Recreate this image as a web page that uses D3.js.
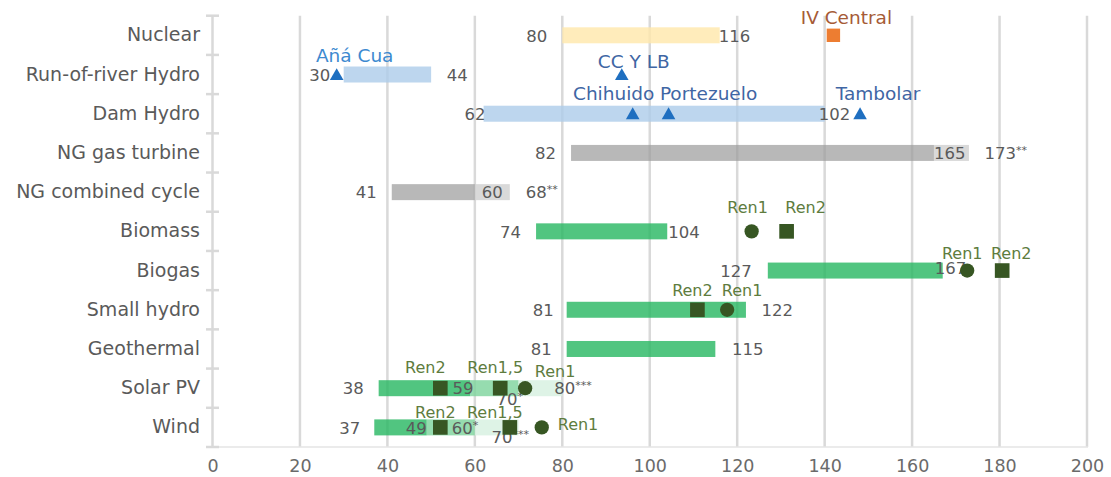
<!DOCTYPE html>
<html>
<head>
<meta charset="utf-8">
<script src="https://cdn.jsdelivr.net/npm/d3@7"></script>
<style>
  html, body { margin: 0; padding: 0; background: #fff; }
  svg { display: block; font-family: "DejaVu Sans", sans-serif; }
</style>
</head>
<body>
<svg id="chart" width="1111" height="477"></svg>
<script>
// ---------------- DATA ----------------
const categories = ["Nuclear","Run-of-river Hydro","Dam Hydro","NG gas turbine","NG combined cycle","Biomass","Biogas","Small hydro","Geothermal","Solar PV","Wind"];
const barLow  = [80, 30, 62, 82, 41, 74, 127, 81, 81, 38, 37];
const barHigh = [116, 50, 140, 165, 60, 104, 167, 122, 115, 59, 49];
const barKind = ["nuclear","hydro","hydro","fossil","fossil","ren","ren","ren","ren","ren","ren"];

const extCategory = ["NG gas turbine","NG combined cycle","Solar PV","Solar PV","Wind","Wind"];
const extLow  = [165, 60, 59, 70, 49, 60];
const extHigh = [173, 68, 70, 80, 60, 70];
const extKind = ["fossilLight","fossilLight","renMid","renLight","renMid","renLight"];

const lowLabelText  = ["80","30","62","82","41","74","127","81","81","38","37"];
const highLabelText = ["116","44","102","165","60","104","167","122","115","59","49"];

const noteCategory = ["NG gas turbine","NG combined cycle","Solar PV","Solar PV","Wind","Wind"];
const noteValue    = [173, 68, 70, 80, 60, 70];
const noteDigits   = ["173","68","70","80","60","70"];
const noteStars    = ["**","**","*","***","*","***"];

const projName     = ["Añá Cua","CC Y LB","Chihuido","Portezuelo","Tambolar"];
const projCategory = ["Run-of-river Hydro","Run-of-river Hydro","Dam Hydro","Dam Hydro","Dam Hydro"];
const projValue    = [28.4, 93.6, 96.1, 104.3, 148.1];

const nucName = ["IV Central"];
const nucCategory = ["Nuclear"];
const nucValue = [142];

const renName     = ["Ren1","Ren2","Ren1","Ren2","Ren2","Ren1","Ren2","Ren1,5","Ren1","Ren2","Ren1,5","Ren1"];
const renCategory = ["Biomass","Biomass","Biogas","Biogas","Small hydro","Small hydro","Solar PV","Solar PV","Solar PV","Wind","Wind","Wind"];
const renValue    = [123.3, 131.3, 172.6, 180.6, 110.9, 117.7, 52.1, 65.8, 71.5, 52.1, 68, 75.3];
const renShape    = ["circle","square","circle","square","square","circle","square","square","circle","square","square","circle"];

const xTicks = [0,20,40,60,80,100,120,140,160,180,200];

// ---------------- LAYOUT / STYLE ----------------
const lowLabelDx = [-15,-13.5,2,-15,-15,-15,-16,-13,-15,-15,-14];
const highLayout = [ // [anchor, dx, dy]
  ["start",-1,0],["start",15.6,0],["start",-6,0],["start",0,0],["start",7,0],
  ["start",1,0],["start",-8,-3],["start",15.5,0],["start",16.6,0],["end",3,0],["end",0,0]];
const noteLayout = [[15.6,0],[16,0],[-22,11],[-8,0],[-23,0],[-27,9.5]];
const projLabelLayout = [[18,-13],[12,-7],[-19,-13.7],[40,-13.7],[18,-13.7]];
const nucLabelLayout = [[13,-11.3]];
const renLabelLayout = [ // [anchor, dx, dy]
  ["middle",-4,-18],["middle",19,-18],["middle",-5,-11.5],["middle",9,-11.5],
  ["middle",-5,-14],["middle",15,-14],["middle",-15,-15],["middle",-5,-15],["middle",30,-11.5],
  ["middle",-5,-9],["middle",-15,-9],["start",16,2.5]];

const colors = {
  nuclear: "#ffe7aa", hydro: "#acccea", fossil: "#9a9a9a", fossilLight: "#cfcfcf",
  ren: "#25b660", renMid: "#7cd39b", renLight: "#d6f0e0"
};
const barOpacity = {nuclear:0.8, hydro:0.8, fossil:0.7, fossilLight:0.8, ren:0.8, renMid:0.8, renLight:0.8};

const textGray = "#5a5a5a";
const renText = "#5e7c3e";
const markerGreen = "#375623";

// ---------------- CHART ----------------
const svg = d3.select("#chart");
const x = d3.scaleLinear().domain([0, 200]).range([212.5, 1087]);
const y = d3.scaleBand().domain(categories).range([15.7, 447]).padding(0);
const yc = c => y(c) + y.bandwidth() / 2;
const barH = 16;
const gridTop = 15.7, gridBottom = 447;

// grid lines
svg.append("g").selectAll("line").data(xTicks).join("line")
  .attr("x1", d => x(d)).attr("x2", d => x(d))
  .attr("y1", gridTop).attr("y2", gridBottom)
  .attr("stroke", "#d9d9d9").attr("stroke-width", 2.5);

// bottom axis line
svg.append("line").attr("x1", x(0)).attr("x2", x(200) + 1)
  .attr("y1", gridBottom).attr("y2", gridBottom)
  .attr("stroke", "#e4e4e4").attr("stroke-width", 1.5);

// left axis band ticks
const bounds = categories.map(c => y(c)).concat([gridBottom]);
svg.append("g").selectAll("line").data(bounds).join("line")
  .attr("x1", x(0) - 6.5).attr("x2", x(0) + 6.5)
  .attr("y1", d => d).attr("y2", d => d)
  .attr("stroke", "#d9d9d9").attr("stroke-width", 2.5);

// x axis labels
const xAxis = svg.append("g").attr("transform", `translate(0,${gridBottom})`)
  .call(d3.axisBottom(x).tickValues(xTicks).tickSize(0).tickPadding(12.5).tickFormat(d3.format("d")));
xAxis.select(".domain").remove();
xAxis.selectAll("text").attr("fill", "#6a6a6a").style("font-size", "17.5px")
  .style("font-family", "DejaVu Sans, sans-serif");

// y axis labels
const yAxis = svg.append("g").attr("transform", `translate(${x(0)},0)`)
  .call(d3.axisLeft(y).tickSize(0).tickPadding(12.5));
yAxis.select(".domain").remove();
yAxis.selectAll("text").attr("fill", textGray).style("font-size", "19px")
  .style("font-family", "DejaVu Sans, sans-serif");

// main bars
svg.append("g").selectAll("rect").data(categories).join("rect")
  .attr("x", (c, i) => x(barLow[i]))
  .attr("width", (c, i) => x(barHigh[i]) - x(barLow[i]))
  .attr("y", c => yc(c) - barH / 2)
  .attr("height", barH)
  .attr("fill", (c, i) => colors[barKind[i]])
  .attr("fill-opacity", (c, i) => barOpacity[barKind[i]]);

// extension bars
svg.append("g").selectAll("rect").data(extCategory).join("rect")
  .attr("x", (c, i) => x(extLow[i]))
  .attr("width", (c, i) => x(extHigh[i]) - x(extLow[i]))
  .attr("y", c => yc(c) - barH / 2)
  .attr("height", barH)
  .attr("fill", (c, i) => colors[extKind[i]])
  .attr("fill-opacity", (c, i) => barOpacity[extKind[i]]);

// low labels
svg.append("g").selectAll("text").data(categories).join("text")
  .attr("x", (c, i) => x(barLow[i]) + lowLabelDx[i])
  .attr("y", c => yc(c) + 6.3)
  .attr("text-anchor", "end")
  .attr("fill", textGray).style("font-size", "16.5px")
  .text((c, i) => lowLabelText[i]);

// high labels
svg.append("g").selectAll("text").data(categories).join("text")
  .attr("x", (c, i) => x(barHigh[i]) + highLayout[i][1])
  .attr("y", (c, i) => yc(c) + 6.3 + highLayout[i][2])
  .attr("text-anchor", (c, i) => highLayout[i][0])
  .attr("fill", textGray).style("font-size", "16.5px")
  .text((c, i) => highLabelText[i]);

// note labels with asterisks
const notes = svg.append("g").selectAll("text").data(noteCategory).join("text")
  .attr("x", (c, i) => x(noteValue[i]) + noteLayout[i][0])
  .attr("y", (c, i) => yc(c) + 6.3 + noteLayout[i][1])
  .attr("fill", textGray).style("font-size", "16.5px");
notes.append("tspan").text((c, i) => noteDigits[i]);
notes.append("tspan").attr("dy", -5).style("font-size", "11px").text((c, i) => noteStars[i]);

// renewables markers
const renG = svg.append("g");
renG.selectAll("path").data(renCategory).join("path")
  .attr("transform", (c, i) => `translate(${x(renValue[i])},${yc(c)})`)
  .attr("d", (c, i) => d3.symbol().type(renShape[i] === "circle" ? d3.symbolCircle : d3.symbolSquare)
      .size(renShape[i] === "circle" ? 160 : 215)())
  .attr("fill", markerGreen);
renG.selectAll("text").data(renCategory).join("text")
  .attr("x", (c, i) => x(renValue[i]) + renLabelLayout[i][1])
  .attr("y", (c, i) => yc(c) + renLabelLayout[i][2])
  .attr("text-anchor", (c, i) => renLabelLayout[i][0])
  .attr("fill", renText).style("font-size", "16px")
  .text((c, i) => renName[i]);

// hydro project triangles
const projG = svg.append("g");
projG.selectAll("path").data(projCategory).join("path")
  .attr("transform", (c, i) => `translate(${x(projValue[i])},${yc(c) + 1.5})`)
  .attr("d", d3.symbol().type(d3.symbolTriangle).size(80)())
  .attr("fill", "#1f6fc0");
projG.selectAll("text").data(projCategory).join("text")
  .attr("x", (c, i) => x(projValue[i]) + projLabelLayout[i][0])
  .attr("y", (c, i) => yc(c) + projLabelLayout[i][1])
  .attr("text-anchor", "middle")
  .attr("fill", (c, i) => i === 0 ? "#3d8ad0" : "#3f66a4")
  .style("font-size", "18.5px")
  .text((c, i) => projName[i]);

// nuclear project
const nucG = svg.append("g");
nucG.selectAll("path").data(nucCategory).join("path")
  .attr("transform", (c, i) => `translate(${x(nucValue[i])},${yc(c)})`)
  .attr("d", d3.symbol().type(d3.symbolSquare).size(180)())
  .attr("fill", "#ed7d31");
nucG.selectAll("text").data(nucCategory).join("text")
  .attr("x", (c, i) => x(nucValue[i]) + nucLabelLayout[i][0])
  .attr("y", (c, i) => yc(c) + nucLabelLayout[i][1])
  .attr("text-anchor", "middle")
  .attr("fill", "#a65b36").style("font-size", "18.5px")
  .text((c, i) => nucName[i]);
</script>
</body>
</html>
